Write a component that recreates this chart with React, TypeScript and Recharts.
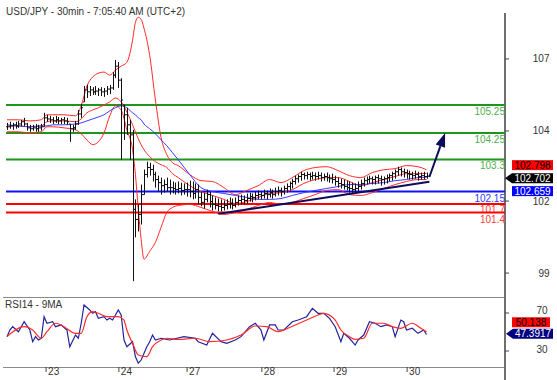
import React from "react";
import {
  ComposedChart,
  Line,
  Scatter,
  XAxis,
  YAxis,
  ReferenceLine,
  ReferenceDot,
} from "recharts";

const FONT = "'Liberation Sans', Arial, sans-serif";

const chartTitle = "USD/JPY - 30min - 7:05:40 AM (UTC+2)";
const rsiTitle = "RSI14 - 9MA";

// hourly-ish OHLC bars (bar index = position on the time axis)
const highs = [
  104.61, 104.65, 104.61, 104.65, 104.68, 104.72, 104.79, 104.61, 104.54, 104.54,
  104.57, 104.54, 104.57, 104.97, 104.9, 104.86, 104.82, 104.86, 104.82, 104.79,
  104.82, 104.79, 104.57, 104.54, 104.68, 105.07, 105.29, 105.93, 105.97, 105.93,
  105.89, 105.93, 105.86, 105.89, 105.86, 105.93, 105.97, 106.43, 106.86, 106.79,
  106.21, 105.25, 105.15, 104.72, 104.36, 101.87, 101.69, 102.4, 102.94, 103.22,
  103.18, 103.11, 102.86, 102.72, 102.65, 102.58, 102.65, 102.58, 102.51, 102.47,
  102.51, 102.47, 102.44, 102.47, 102.54, 102.51, 102.44, 102.4, 102.15, 102.11,
  102.22, 102.15, 102.01, 101.94, 101.9, 101.87, 101.83, 101.87, 101.94, 101.9,
  101.94, 102.01, 102.04, 102.01, 102.08, 102.11, 102.08, 102.15, 102.19, 102.15,
  102.22, 102.19, 102.26, 102.22, 102.29, 102.33, 102.29, 102.36, 102.44, 102.51,
  102.61, 102.72, 102.76, 102.86, 102.83, 102.86, 102.83, 102.86, 102.83, 102.86,
  102.83, 102.79, 102.83, 102.76, 102.79, 102.72, 102.65, 102.61, 102.58, 102.54,
  102.51, 102.47, 102.44, 102.51, 102.58, 102.65, 102.69, 102.72, 102.69, 102.72,
  102.76, 102.72, 102.69, 102.76, 102.79, 102.86, 102.94, 103.04, 103.01, 102.97,
  102.94, 102.9, 102.86, 102.9, 102.86, 102.83, 102.86, 102.83,
];
const lows = [
  104.36, 104.4, 104.36, 104.4, 104.43, 104.5, 104.5, 104.33, 104.29, 104.33,
  104.29, 104.29, 104.33, 104.47, 104.65, 104.61, 104.57, 104.61, 104.57, 104.57,
  104.57, 104.54, 103.93, 104.29, 104.36, 104.54, 104.79, 105.36, 105.5, 105.57,
  105.61, 105.61, 105.57, 105.57, 105.54, 105.61, 105.64, 105.79, 106.21, 105.86,
  103.29, 104.0, 104.18, 103.29, 98.94, 100.51, 100.72, 100.97, 102.04, 102.65,
  102.72, 102.51, 102.29, 102.15, 102.04, 102.11, 102.15, 102.04, 102.08, 102.04,
  102.08, 102.01, 102.04, 101.97, 101.94, 101.87, 101.9, 101.69, 101.62, 101.54,
  101.76, 101.58, 101.47, 101.51, 101.44, 101.44, 101.47, 101.51, 101.54, 101.51,
  101.58, 101.65, 101.69, 101.69, 101.72, 101.79, 101.76, 101.83, 101.87, 101.87,
  101.9, 101.87, 101.94, 101.9, 101.97, 102.01, 101.97, 102.04, 102.11, 102.19,
  102.26, 102.4, 102.47, 102.54, 102.58, 102.58, 102.54, 102.58, 102.54, 102.58,
  102.51, 102.54, 102.51, 102.47, 102.44, 102.36, 102.29, 102.26, 102.22, 102.19,
  102.11, 102.08, 102.11, 102.15, 102.22, 102.33, 102.4, 102.44, 102.4, 102.4,
  102.44, 102.36, 102.4, 102.44, 102.51, 102.54, 102.61, 102.72, 102.69, 102.65,
  102.61, 102.58, 102.58, 102.61, 102.54, 102.58, 102.58, 102.61,
];
const closes = [
  104.47, 104.5, 104.54, 104.5, 104.57, 104.65, 104.57, 104.43, 104.4, 104.43,
  104.4, 104.43, 104.47, 104.79, 104.75, 104.72, 104.68, 104.72, 104.68, 104.72,
  104.68, 104.65, 104.4, 104.43, 104.57, 104.93, 105.15, 105.79, 105.72, 105.79,
  105.72, 105.75, 105.79, 105.72, 105.75, 105.82, 105.86, 106.32, 106.64, 106.14,
  105.43, 104.9, 104.54, 104.18, 101.51, 101.15, 101.33, 102.04, 102.76, 103.01,
  102.94, 102.76, 102.58, 102.47, 102.36, 102.4, 102.29, 102.29, 102.26, 102.22,
  102.26, 102.19, 102.22, 102.22, 102.15, 102.08, 102.22, 101.94, 101.76, 101.87,
  102.04, 101.79, 101.69, 101.65, 101.62, 101.58, 101.65, 101.69, 101.72, 101.65,
  101.76, 101.83, 101.87, 101.83, 101.9, 101.97, 101.94, 102.01, 102.04, 102.01,
  102.08, 102.04, 102.11, 102.04, 102.15, 102.19, 102.15, 102.26, 102.33, 102.44,
  102.51, 102.61, 102.69, 102.76, 102.72, 102.76, 102.69, 102.72, 102.69, 102.72,
  102.65, 102.69, 102.65, 102.61, 102.58, 102.51, 102.44, 102.4, 102.33, 102.29,
  102.26, 102.22, 102.26, 102.33, 102.44, 102.54, 102.58, 102.61, 102.58, 102.65,
  102.61, 102.58, 102.61, 102.65, 102.72, 102.79, 102.86, 102.94, 102.86, 102.83,
  102.79, 102.76, 102.72, 102.76, 102.69, 102.72, 102.69, 102.702,
];

// bollinger bands + moving average, sampled where they were read
const bandHours = [
  0, 4, 8, 12, 14, 16, 20, 24, 26, 28, 30, 32, 34, 36, 38, 40, 42, 44, 45, 46, 47,
  48, 50, 52, 54, 56, 58, 60, 64, 68, 72, 76, 80, 84, 88, 92, 96, 100, 104, 108,
  112, 116, 120, 124, 128, 132, 136, 140, 144, 147,
];
const upperBand = [
  104.72, 104.72, 104.68, 104.72, 104.9, 104.9, 104.9, 104.86, 105.22, 105.93,
  106.25, 106.39, 106.43, 106.32, 106.5, 106.64, 106.78, 107.57, 108.21, 108.39,
  108.32, 108.0, 107.03, 105.43, 104.08, 103.47, 103.18, 103.08, 102.76, 102.54,
  102.51, 102.29, 102.04, 102.19, 102.36, 102.58, 102.47, 102.65, 102.9, 103.01,
  103.04, 102.9, 102.72, 102.65, 102.83, 102.93, 102.97, 103.08, 103.04, 102.93,
];
const middleBand = [
  104.5, 104.5, 104.47, 104.5, 104.65, 104.68, 104.68, 104.65, 104.75, 104.97,
  105.07, 105.15, 105.25, 105.36, 105.5, 105.36, 105.0, 104.54, 104.29, 104.04,
  103.83, 103.65, 103.4, 103.22, 103.11, 103.01, 102.79, 102.65, 102.36, 102.15,
  102.01, 101.87, 101.72, 101.79, 101.94, 102.08, 102.11, 102.22, 102.44, 102.58,
  102.65, 102.65, 102.51, 102.36, 102.47, 102.58, 102.69, 102.79, 102.79, 102.798,
];
const lowerBand = [
  104.29, 104.29, 104.25, 104.29, 104.47, 104.47, 104.43, 104.36, 104.22, 104.0,
  103.83, 103.93, 104.25, 104.86, 105.22, 105.07, 104.36, 103.65, 102.76, 101.51,
  100.44, 99.73, 100.01, 100.33, 100.87, 101.4, 101.58, 101.65, 101.69, 101.58,
  101.44, 101.33, 101.4, 101.51, 101.65, 101.76, 101.69, 101.76, 101.9, 102.04,
  102.19, 102.22, 102.04, 102.01, 102.11, 102.26, 102.4, 102.51, 102.58, 102.58,
];
const maLine = [
  104.54, 104.5, 104.47, 104.5, 104.5, 104.54, 104.54, 104.57, 104.61, 104.68,
  104.75, 104.82, 104.9, 105.04, 105.15, 105.22, 105.15, 104.97, 104.9, 104.79,
  104.72, 104.57, 104.4, 104.22, 104.0, 103.79, 103.54, 103.29, 102.76, 102.29,
  102.15, 102.08, 102.01, 101.94, 101.87, 101.87, 101.9, 102.01, 102.11, 102.19,
  102.26, 102.33, 102.4, 102.4, 102.44, 102.47, 102.54, 102.58, 102.65, 102.659,
];

const rsiHours = [
  0, 1, 2, 4, 5, 6, 8, 9, 10, 11, 12, 13, 14, 16, 17, 19, 21, 22, 24, 25, 26, 27,
  29, 30, 31, 32, 34, 35, 36, 37, 39, 40, 41, 42, 44, 45, 46, 47, 49, 50, 51, 52,
  54, 57, 62, 66, 67, 70, 72, 75, 77, 80, 82, 85, 87, 89, 90, 92, 94, 95, 97, 100,
  102, 105, 107, 109, 111, 113, 115, 117, 118, 120, 122, 123, 125, 127, 129, 131,
  133, 135, 136, 138, 139, 140, 142, 144, 146, 147,
];
const rsiValues = [
  45.1, 52.1, 55.6, 50.3, 55.6, 60.8, 52.1, 39.8, 45.1, 41.6, 43.4, 66.1, 59.2, 60.8,
  55.6, 57.4, 52.1, 34.5, 46.8, 43.4, 59.2, 78.4, 73.2, 69.7, 71.4, 64.4, 66.1, 62.6,
  64.4, 62.6, 73.2, 67.9, 41.6, 34.5, 39.8, 24.0, 17.1, 20.5, 34.5, 39.8, 46.8, 41.6,
  43.4, 41.6, 45.1, 43.4, 39.8, 36.3, 48.6, 39.8, 38.1, 41.6, 45.1, 55.6, 59.2, 52.1,
  41.6, 57.4, 57.4, 52.1, 52.1, 60.8, 62.6, 66.1, 74.9, 69.7, 69.7, 64.4, 55.6, 39.8,
  48.6, 43.4, 36.3, 41.6, 46.8, 60.8, 59.2, 55.6, 57.4, 55.6, 45.1, 62.6, 60.8, 52.1,
  53.9, 48.6, 52.1, 47.3917,
];
const rsiMaHours = [
  0, 6, 9, 12, 14, 17, 20, 24, 26, 28, 30, 32, 35, 39, 41, 42, 44, 46, 49, 51, 54,
  56, 60, 66, 71, 77, 82, 87, 91, 95, 97, 101, 105, 109, 111, 115, 117, 120, 122,
  125, 128, 132, 135, 138, 142, 145, 147,
];
const rsiMaValues = [
  45.1, 55.6, 52.1, 43.4, 50.3, 59.2, 55.6, 48.6, 48.6, 66.1, 71.4, 69.7, 66.1, 66.1,
  62.6, 52.1, 38.1, 25.8, 24.0, 34.5, 41.6, 43.4, 42.3, 43.4, 39.8, 41.6, 46.8, 56.3,
  55.6, 50.3, 52.1, 57.4, 62.6, 67.9, 69.7, 62.6, 52.1, 45.1, 42.3, 43.4, 59.2, 59.2,
  55.6, 53.9, 59.2, 53.9, 50.138,
];

const dayTicks = [13.7, 39.2, 63.1, 89.3, 114.6, 140.2];
const dayLabels = ["23", "24", "27", "28", "29", "30"];

const priceTicks = [106.9, 104.32, 101.81, 99.23];
const priceTickLabels = ["107", "104", "102", "99"];
const rsiTicks = [70, 30];

const levelValues = [105.25, 104.25, 103.3, 102.15, 101.7, 101.4];
const levelLabels = ["105.25", "104.25", "103.3", "102.15", "101.7", "101.4"];

const lastPrice = 102.702;
const lastMiddle = 102.798;
const lastMa = 102.659;
const lastRsi = 47.3917;
const lastRsiMa = 50.138;

const trendLine = [
  { x: 74, y: 101.35 },
  { x: 148, y: 102.5 },
];
const arrowPath = [
  { x: 148, y: 102.67 },
  { x: 153.5, y: 104.25 },
];

// layout
const X_MIN = -0.35;
const X_MAX = 174.5;
const Y_MIN = 98.373;
const Y_MAX = 108.545;
const MAIN_TOP = 13;
const MAIN_H = 297;
const PX_PER_UNIT = (MAIN_H - MAIN_TOP) / (Y_MAX - Y_MIN);
const RSI_MIN = 13.16;
const RSI_MAX = 86.84;

const priceData: any[] = highs.map((h, i) => ({
  t: i,
  high: h,
  low: lows[i],
  close: closes[i],
  open: i === 0 ? closes[0] : closes[i - 1],
}));
bandHours.forEach((h, k) => {
  Object.assign(priceData[h], {
    upper: upperBand[k],
    middle: middleBand[k],
    lower: lowerBand[k],
    ma: maLine[k],
  });
});

const rsiMap = new Map<number, any>();
rsiHours.forEach((h, k) => rsiMap.set(h, { ...(rsiMap.get(h) || { t: h }), rsi: rsiValues[k] }));
rsiMaHours.forEach((h, k) => rsiMap.set(h, { ...(rsiMap.get(h) || { t: h }), rsiMa: rsiMaValues[k] }));
const rsiData = Array.from(rsiMap.values()).sort((a, b) => a.t - b.t);

const levelColor = (i: number) => (i < 3 ? "#1e961e" : i === 3 ? "#1010ff" : "#ff0000");
const levelTextColor = (i: number) => (i < 3 ? "#4fae4f" : i === 3 ? "#3a3aff" : "#ff3a3a");
// the two red labels sit very close together, nudge them apart a little
const levelLabelDy = (i: number) => (i === 4 ? 8.5 : i === 5 ? 11 : 10);

function OhlcBar(props: any) {
  const { cx, cy, payload } = props;
  if (cx == null || cy == null || !payload) return null;
  const { high, low, open, close } = payload;
  const x = Math.round(cx) + 0.5;
  const o = Math.min(high, Math.max(low, open));
  const yLow = cy + (high - low) * PX_PER_UNIT;
  const yOpen = cy + (high - o) * PX_PER_UNIT;
  const yClose = cy + (high - close) * PX_PER_UNIT;
  return (
    <path
      d={`M${x},${cy}V${yLow}M${x - 1.5},${yOpen}H${x}M${x},${yClose}H${x + 1.5}`}
      stroke="#111"
      strokeWidth={1}
      fill="none"
    />
  );
}

function LevelLabel(props: any) {
  const { viewBox, text, color, dy } = props;
  if (!viewBox) return null;
  return (
    <text
      x={viewBox.x + viewBox.width}
      y={viewBox.y + dy}
      textAnchor="end"
      fontSize={10}
      fontFamily={FONT}
      fill={color}
    >
      {text}
    </text>
  );
}

function ArrowShape(props: any) {
  const { x1, y1, x2, y2 } = props;
  const dx = x2 - x1;
  const dy = y2 - y1;
  const len = Math.hypot(dx, dy) || 1;
  const ux = dx / len;
  const uy = dy / len;
  const bx = x2 - ux * 14;
  const by = y2 - uy * 14;
  return (
    <g>
      <line x1={x1} y1={y1} x2={bx} y2={by} stroke="#0c0c5a" strokeWidth={2} />
      <path
        d={`M${x2},${y2}L${bx - uy * 5},${by + ux * 5}L${bx + uy * 5},${by - ux * 5}Z`}
        fill="#0c0c5a"
      />
    </g>
  );
}

function PriceTags(props: any) {
  const { cy } = props;
  if (cy == null) return null;
  const c = cy + 2;
  return (
    <g fontFamily={FONT} fontSize={10}>
      <rect x={512} y={c - 18} width={41} height={10} fill="#ff0000" />
      <text x={532.5} y={c - 9.5} textAnchor="middle" fill="#000">
        {lastMiddle.toFixed(3)}
      </text>
      <path d={`M505,${c}L512,${c - 5}H553V${c + 5}H512Z`} fill="#000" />
      <text x={532.5} y={c + 3.5} textAnchor="middle" fill="#fff">
        {lastPrice.toFixed(3)}
      </text>
      <rect x={512} y={c + 8} width={41} height={10} fill="#0000ff" />
      <text x={532.5} y={c + 16.5} textAnchor="middle" fill="#fff">
        {lastMa.toFixed(3)}
      </text>
    </g>
  );
}

function RsiTags(props: any) {
  const { cy } = props;
  if (cy == null) return null;
  const c = cy - 0.7;
  return (
    <g fontFamily={FONT} fontSize={10}>
      <rect x={512} y={c - 16.5} width={38} height={10} fill="#ff0000" />
      <text x={531} y={c - 7.8} textAnchor="middle" fill="#000">
        {lastRsiMa.toFixed(3)}
      </text>
      <path d={`M506,${c}L513,${c - 5}H553V${c + 5}H513Z`} fill="#000080" />
      <text x={533} y={c + 3.5} textAnchor="middle" fill="#fff">
        {lastRsi.toFixed(4)}
      </text>
    </g>
  );
}

function PriceTick(props: any) {
  const { y, payload } = props;
  const i = priceTicks.findIndex((v) => Math.abs(v - payload.value) < 1e-6);
  return (
    <text x={549.5} y={y + 3.5} textAnchor="end" fontSize={10} fontFamily={FONT} fill="#333">
      {i >= 0 ? priceTickLabels[i] : ""}
    </text>
  );
}

function RsiTick(props: any) {
  const { y, payload } = props;
  return (
    <text x={547.5} y={y + 1.5} textAnchor="end" fontSize={10} fontFamily={FONT} fill="#333">
      {payload.value}
    </text>
  );
}

function DayTick(props: any) {
  const { x, y, payload } = props;
  const i = dayTicks.findIndex((v) => Math.abs(v - payload.value) < 1e-6);
  return (
    <text x={x + 2} y={y + 3} textAnchor="start" fontSize={10} fontFamily={FONT} fill="#333">
      {i >= 0 ? dayLabels[i] : ""}
    </text>
  );
}

export default function App() {
  return (
    <div
      style={{
        position: "fixed",
        left: 0,
        top: 0,
        width: 557,
        height: 380,
        background: "#fff",
        overflow: "hidden",
        fontFamily: FONT,
      }}
    >
      <svg width={557} height={380} style={{ position: "absolute", left: 0, top: 0 }}>
        <text x={6} y={14.5} fontSize={10} fontFamily={FONT} fill="#333">
          {chartTitle}
        </text>
        <text x={5} y={307.5} fontSize={10} fontFamily={FONT} fill="#333">
          {rsiTitle}
        </text>
        <line x1={3} x2={505} y1={297.5} y2={297.5} stroke="#8a8a8a" strokeWidth={1} />
        <line x1={3} x2={505} y1={367.5} y2={367.5} stroke="#8a8a8a" strokeWidth={1} />
        <line x1={505} x2={505} y1={13} y2={380} stroke="#6e6e6e" strokeWidth={2} />
      </svg>

      <div style={{ position: "absolute", left: 0, top: 0 }}>
        <ComposedChart
          width={557}
          height={MAIN_H}
          data={priceData}
          margin={{ top: MAIN_TOP, right: 0, bottom: 0, left: 6 }}
        >
          <XAxis
            dataKey="t"
            type="number"
            domain={[X_MIN, X_MAX]}
            allowDataOverflow
            hide
          />
          <YAxis
            orientation="right"
            width={52}
            type="number"
            domain={[Y_MIN, Y_MAX]}
            allowDataOverflow
            ticks={priceTicks}
            interval={0}
            axisLine={false}
            tickLine={{ stroke: "#444" }}
            tickSize={4}
            tick={<PriceTick />}
          />
          {levelValues.map((v, i) => (
            <ReferenceLine
              key={levelLabels[i]}
              y={v}
              stroke={levelColor(i)}
              strokeWidth={2}
              label={
                <LevelLabel text={levelLabels[i]} color={levelTextColor(i)} dy={levelLabelDy(i)} />
              }
            />
          ))}
          <Line
            dataKey="upper"
            type="monotone"
            stroke="#ff2a2a"
            strokeWidth={1}
            dot={false}
            connectNulls
            isAnimationActive={false}
          />
          <Line
            dataKey="middle"
            type="monotone"
            stroke="#ff2a2a"
            strokeWidth={1}
            dot={false}
            connectNulls
            isAnimationActive={false}
          />
          <Line
            dataKey="lower"
            type="monotone"
            stroke="#ff2a2a"
            strokeWidth={1}
            dot={false}
            connectNulls
            isAnimationActive={false}
          />
          <Line
            dataKey="ma"
            type="monotone"
            stroke="#3a3aff"
            strokeWidth={1}
            dot={false}
            connectNulls
            isAnimationActive={false}
          />
          <Scatter dataKey="high" shape={<OhlcBar />} isAnimationActive={false} />
          <ReferenceLine segment={trendLine} stroke="#0c0c5a" strokeWidth={2} />
          <ReferenceLine segment={arrowPath} shape={(p: any) => <ArrowShape {...p} />} />
          <ReferenceDot
            x={147}
            y={lastPrice}
            r={0}
            ifOverflow="visible"
            shape={(p: any) => <PriceTags {...p} />}
          />
        </ComposedChart>
      </div>

      <div style={{ position: "absolute", left: 0, top: 297 }}>
        <ComposedChart
          width={557}
          height={83}
          data={rsiData}
          margin={{ top: 0, right: 0, bottom: 0, left: 6 }}
        >
          <XAxis
            dataKey="t"
            type="number"
            domain={[X_MIN, X_MAX]}
            allowDataOverflow
            ticks={dayTicks}
            interval={0}
            height={13}
            axisLine={false}
            tickLine={{ stroke: "#444" }}
            tickSize={5}
            tickMargin={0}
            tick={<DayTick />}
          />
          <YAxis
            orientation="right"
            width={52}
            type="number"
            domain={[RSI_MIN, RSI_MAX]}
            allowDataOverflow
            ticks={rsiTicks}
            interval={0}
            axisLine={false}
            tickLine={{ stroke: "#444" }}
            tickSize={4}
            tick={<RsiTick />}
          />
          <Line
            dataKey="rsi"
            type="linear"
            stroke="#23239c"
            strokeWidth={1.2}
            dot={false}
            connectNulls
            isAnimationActive={false}
          />
          <Line
            dataKey="rsiMa"
            type="monotone"
            stroke="#ff2a2a"
            strokeWidth={1.2}
            dot={false}
            connectNulls
            isAnimationActive={false}
          />
          <ReferenceDot
            x={147}
            y={lastRsi}
            r={0}
            ifOverflow="visible"
            shape={(p: any) => <RsiTags {...p} />}
          />
        </ComposedChart>
      </div>
    </div>
  );
}
